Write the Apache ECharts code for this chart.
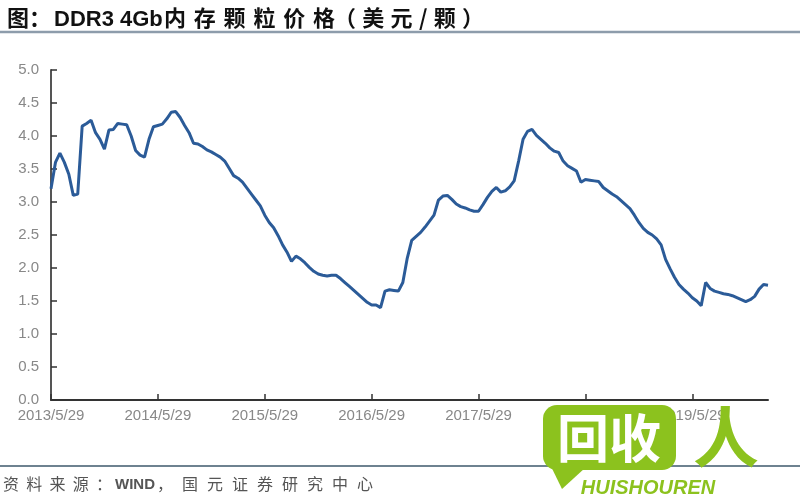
<!DOCTYPE html>
<html>
<head>
<meta charset="utf-8">
<script src="https://cdn.jsdelivr.net/npm/echarts@6/dist/echarts.min.js"></script>
<style>html,body{margin:0;padding:0;background:#fff}#c{width:800px;height:500px}</style>
</head>
<body>
<div id="c"></div>
<script>
// ---- data (half-monthly, starting 2013/5/29) ----
const titleParts = ['图：', 'DDR3 4Gb', '内存颗粒价格', '（美元/颗）'];
const sourceParts = ['资料来源：', 'WIND', '，国元证券研究中心'];
const startYear = 2013;
const values = [
3.20,3.60,3.74,3.60,3.42,3.10,3.12,4.15,4.19,4.24,
4.05,3.95,3.80,4.09,4.10,4.19,4.18,4.17,4.00,3.78,
3.71,3.68,3.95,4.14,4.16,4.18,4.26,4.36,4.37,4.28,
4.16,4.05,3.89,3.88,3.84,3.79,3.76,3.72,3.68,3.62,
3.51,3.40,3.36,3.30,3.21,3.12,3.03,2.94,2.80,2.69,
2.61,2.49,2.35,2.24,2.10,2.18,2.14,2.08,2.01,1.95,
1.91,1.89,1.88,1.89,1.89,1.84,1.78,1.72,1.66,1.60,
1.54,1.48,1.44,1.44,1.40,1.65,1.67,1.66,1.65,1.78,
2.15,2.42,2.48,2.54,2.62,2.71,2.80,3.03,3.09,3.10,
3.04,2.97,2.93,2.91,2.88,2.86,2.86,2.96,3.07,3.16,
3.22,3.15,3.17,3.23,3.32,3.62,3.95,4.07,4.10,4.01,
3.95,3.89,3.82,3.77,3.75,3.62,3.55,3.51,3.47,3.30,
3.34,3.33,3.32,3.31,3.22,3.17,3.12,3.08,3.02,2.96,
2.90,2.80,2.69,2.60,2.54,2.50,2.44,2.35,2.13,1.99,
1.86,1.75,1.68,1.62,1.55,1.50,1.43,1.78,1.69,1.65,
1.63,1.61,1.60,1.58,1.55,1.52,1.49,1.52,1.57,1.68,
1.75,1.74
];
// category dates: 29th of month and 13th of next month alternately
const dates = values.map((_, k) => {
  if (k % 2 === 0) {
    const mi = 4 + k / 2;
    const y = startYear + Math.floor(mi / 12), m = mi % 12 + 1;
    return y + '/' + m + '/' + (m === 2 ? 28 : 29);
  } else {
    const mi = 5 + (k - 1) / 2;
    const y = startYear + Math.floor(mi / 12), m = mi % 12 + 1;
    return y + '/' + m + '/13';
  }
});

// ---- helpers for spaced text ----
const mctx = document.createElement('canvas').getContext('2d');
function spaced(str, x0, x1, yMid, font, fill) {
  mctx.font = font;
  const chars = Array.from(str);
  const widths = chars.map(c => mctx.measureText(c).width);
  const natural = widths.reduce((a, b) => a + b, 0);
  const sp = chars.length > 1 ? (x1 - x0 - natural) / (chars.length - 1) : 0;
  let cx = x0;
  return chars.map((c, i) => {
    const el = { type: 'text', x: cx, y: yMid, z: 10,
      style: { text: c, font: font, fill: fill, textAlign: 'left', textVerticalAlign: 'middle', verticalAlign: 'middle' } };
    cx += widths[i] + sp;
    return el;
  });
}
function plain(str, x, yMid, font, fill) {
  return [{ type: 'text', x: x, y: yMid, z: 10,
    style: { text: str, font: font, fill: fill, textAlign: 'left', textVerticalAlign: 'middle', verticalAlign: 'middle' } }];
}

const tFont = 'bold 22px "Noto Sans CJK SC"';
const sFont = '16px "Noto Sans CJK SC"';
const green = '#8cc21e';
const graphics = [].concat(
  plain(titleParts[0], 7, 18, tFont, '#111'),
  plain(titleParts[1], 54, 19.5, 'bold 22px "Liberation Sans"', '#111'),
  spaced(titleParts[2], 164, 335, 18, tFont, '#111'),
  spaced(titleParts[3], 334, 484, 18, tFont, '#111'),
  [{ type: 'line', shape: { x1: 0, y1: 32, x2: 800, y2: 32 }, style: { stroke: '#8d9cab', lineWidth: 2.5 } },
   { type: 'line', shape: { x1: 0, y1: 466, x2: 800, y2: 466 }, style: { stroke: '#6e8290', lineWidth: 2 } }],
  spaced(sourceParts[0], 3, 112, 484, sFont, '#555'),
  plain(sourceParts[1], 115, 485, 'bold 15px "Liberation Sans"', '#555'),
  spaced(sourceParts[2], 157, 373, 484, sFont, '#555'),
  [
    { type: 'polygon', z: 20, shape: { points: [[543, 450], [562, 489], [585, 468]] }, style: { fill: green } },
    { type: 'rect', z: 20, shape: { x: 543, y: 405, width: 133, height: 65, r: 14 }, style: { fill: green } },
    { type: 'text', z: 21, x: 609, y: 438, style: { text: '回收', font: 'bold 52px "Noto Sans CJK SC"', fill: '#fff', textAlign: 'center', textVerticalAlign: 'middle', verticalAlign: 'middle' } },
    { type: 'text', z: 21, x: 726, y: 437, style: { text: '人', font: 'bold 66px "Noto Sans CJK SC"', fill: green, textAlign: 'center', textVerticalAlign: 'middle', verticalAlign: 'middle' } },
    { type: 'text', z: 21, x: 648, y: 488, style: { text: 'HUISHOUREN', font: 'italic bold 20px "Liberation Sans"', fill: green, textAlign: 'center', textVerticalAlign: 'middle', verticalAlign: 'middle' } }
  ]
);

const chart = echarts.init(document.getElementById('c'), null, { renderer: 'canvas' });
chart.setOption({
  animation: false,
  backgroundColor: '#fff',
  grid: { left: 51, right: 32, top: 70, bottom: 100, containLabel: false },
  xAxis: {
    type: 'category',
    data: dates,
    boundaryGap: false,
    axisLine: { show: true, lineStyle: { color: '#333', width: 2 } },
    axisTick: { show: true, inside: true, interval: 23, length: 6, lineStyle: { color: '#333', width: 1.5 } },
    axisLabel: { interval: 23, color: '#888', fontSize: 15, fontFamily: '"Liberation Sans", Arial', margin: 8 },
    splitLine: { show: false }
  },
  yAxis: {
    type: 'value',
    min: 0, max: 5, interval: 0.5,
    axisLine: { show: true, lineStyle: { color: '#555', width: 2 } },
    axisTick: { show: true, inside: true, length: 6, lineStyle: { color: '#333', width: 1.5 } },
    axisLabel: { color: '#888', fontSize: 15, fontFamily: '"Liberation Sans", Arial', margin: 12,
      formatter: v => v.toFixed(1) },
    splitLine: { show: false }
  },
  series: [{
    type: 'line',
    data: values,
    symbol: 'none',
    smooth: false,
    lineStyle: { color: '#2b5b98', width: 3 }
  }],
  graphic: graphics
});
</script>
</body>
</html>
